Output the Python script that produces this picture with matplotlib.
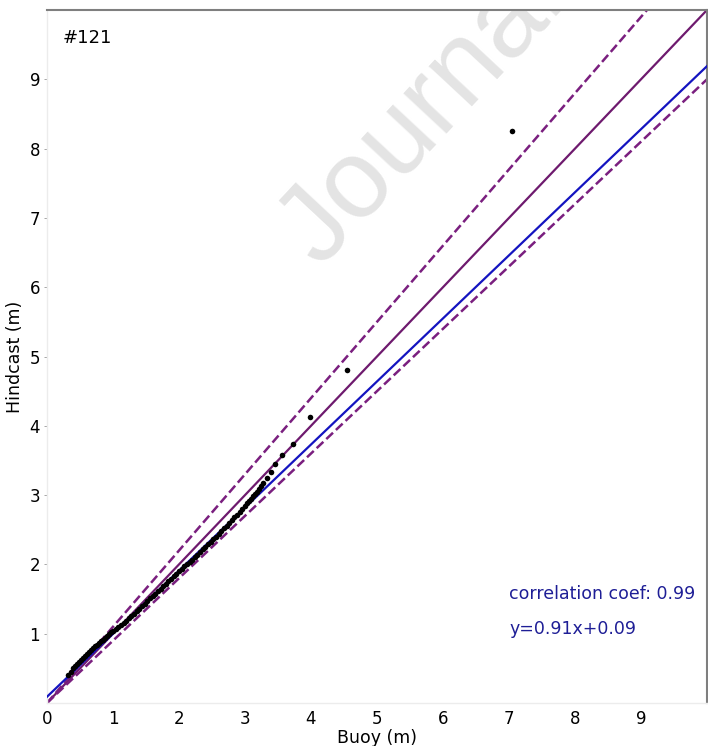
import numpy as np
import matplotlib.pyplot as plt

# quantiles, buoy vs hindcast (m)
buoy = [0.32, 0.36, 0.40, 0.43, 0.46, 0.49, 0.52, 0.55, 0.58, 0.61, 0.64, 0.67,
        0.70, 0.73, 0.76, 0.79, 0.82, 0.85, 0.88, 0.91, 0.94, 0.97, 1.00, 1.04,
        1.08, 1.12, 1.16, 1.20, 1.24, 1.28, 1.32, 1.36, 1.40, 1.44, 1.48, 1.52,
        1.56, 1.60, 1.64, 1.68, 1.72, 1.76, 1.80, 1.84, 1.88, 1.92, 1.96, 2.00,
        2.04, 2.08, 2.12, 2.16, 2.20, 2.24, 2.28, 2.32, 2.36, 2.40, 2.44, 2.48,
        2.52, 2.56, 2.60, 2.64, 2.68, 2.72, 2.76, 2.80, 2.84, 2.88, 2.92, 2.96,
        3.00, 3.03, 3.06, 3.09, 3.12, 3.15, 3.18, 3.21, 3.24, 3.27, 3.33, 3.39,
        3.45, 3.56, 3.73, 3.98, 4.55, 7.05]
hindcast = [0.41, 0.45, 0.50, 0.53, 0.56, 0.59, 0.62, 0.65, 0.68, 0.71, 0.74, 0.77,
            0.80, 0.82, 0.84, 0.86, 0.89, 0.91, 0.94, 0.97, 0.99, 1.02, 1.04, 1.07,
            1.10, 1.13, 1.16, 1.19, 1.22, 1.26, 1.29, 1.33, 1.36, 1.40, 1.43, 1.47,
            1.51, 1.54, 1.58, 1.61, 1.65, 1.69, 1.72, 1.76, 1.79, 1.83, 1.86, 1.90,
            1.93, 1.97, 2.00, 2.04, 2.07, 2.11, 2.14, 2.18, 2.22, 2.25, 2.29, 2.33,
            2.36, 2.40, 2.44, 2.48, 2.52, 2.56, 2.60, 2.64, 2.68, 2.72, 2.76, 2.80,
            2.84, 2.88, 2.91, 2.95, 2.98, 3.02, 3.05, 3.09, 3.13, 3.17, 3.25, 3.33,
            3.45, 3.58, 3.74, 4.13, 4.81, 8.25]

station = "#121"
slope, intercept = 0.91, 0.09
corr = 0.99
band = 0.1  # +/-10 % envelope

fig = plt.figure(figsize=(7.08, 7.46), dpi=100)
ax = fig.add_axes([47/708, 43/746, 660/708, 693/746])

xx = np.array([0, 10])
ax.plot(xx, xx, color='#6e1a6e', lw=1.6, zorder=2)
ax.plot(xx, (1 + band) * xx, color='#7a1f7f', lw=1.8, ls='--', zorder=2)
ax.plot(xx, (1 - band) * xx, color='#7a1f7f', lw=1.8, ls='--', zorder=2)
ax.plot(xx, slope * xx + intercept, color='#1414c0', lw=1.6, zorder=3)
ax.plot(buoy, hindcast, 'o', color='black', ms=4, mew=0, zorder=4)

ax.text(7.0, 1.5, f"correlation coef: {corr}", color='#1e1e96', fontsize=12.5)
ax.text(7.0, 1.0, f"y={slope}x+{intercept}", color='#1e1e96', fontsize=12.5)
ax.text(0.023, 0.96, station, transform=ax.transAxes, fontsize=13, va='center')

# watermark behind the data
ax.text(320/708, 1 - 268/746, "Journal", color='#e4e4e4', fontsize=80,
        family='Liberation Sans', rotation=47, rotation_mode='anchor',
        ha='left', va='baseline', transform=fig.transFigure, zorder=0,
        clip_on=True)

ax.set_xlim(0, 10)
ax.set_ylim(0, 10)
ax.set_xticks(range(0, 10))
ax.set_yticks(range(1, 10))
ax.tick_params(axis='both', labelsize=12, length=2, width=0.6, color='#999999', pad=3)
ax.tick_params(axis='x', length=0, pad=5)
ax.set_xlabel("Buoy (m)", fontsize=12.5, labelpad=1)
ax.set_ylabel("Hindcast (m)", fontsize=12.5, labelpad=4)

for s in ['top', 'right']:
    ax.spines[s].set_color('#7f7f7f')
    ax.spines[s].set_linewidth(1.5)
for s in ['left', 'bottom']:
    ax.spines[s].set_color('#ececec')
    ax.spines[s].set_linewidth(1.0)

fig.savefig('out.png', dpi=100)
